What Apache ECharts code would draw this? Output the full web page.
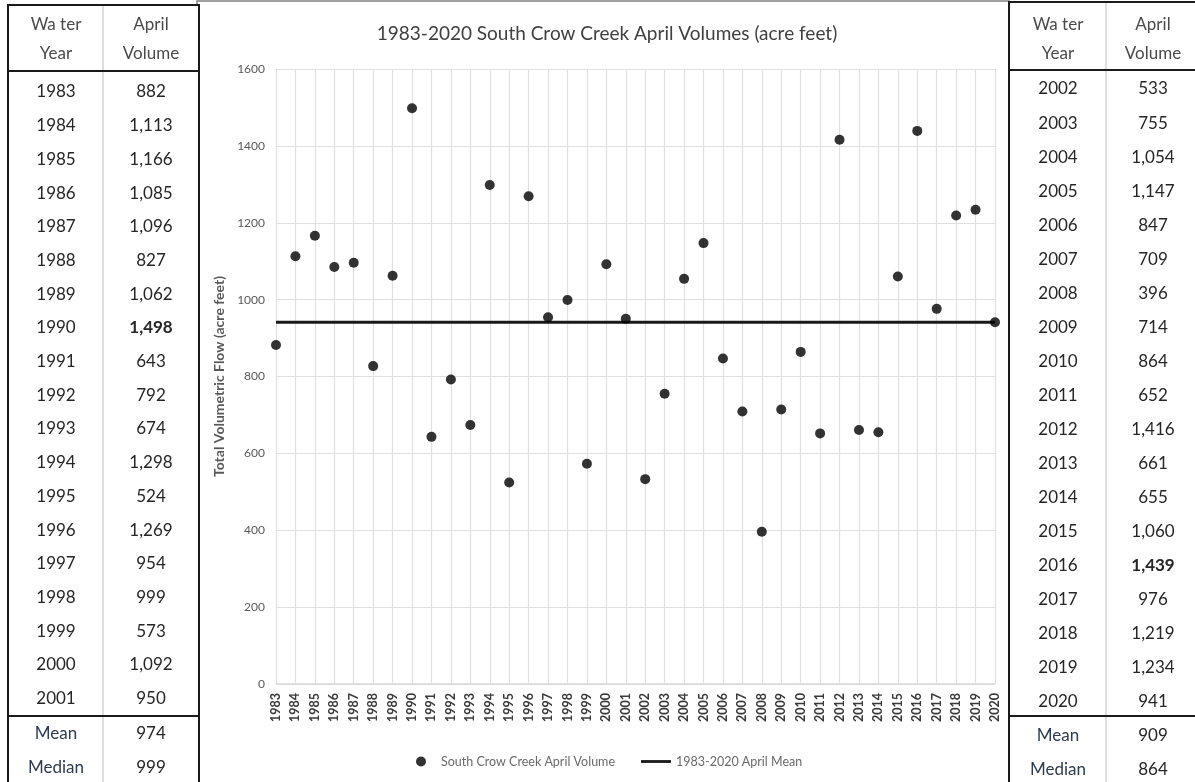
<!DOCTYPE html>
<html>
<head>
<meta charset="utf-8">
<script src="https://cdn.jsdelivr.net/npm/echarts@6/dist/echarts.min.js"></script>
<style>
html,body{margin:0;padding:0;background:#fff;}
#main{width:1195px;height:782px;}
</style>
</head>
<body>
<div id="main"></div>
<script>
// ---- data ----
const years = ['1983','1984','1985','1986','1987','1988','1989','1990','1991','1992','1993','1994','1995','1996','1997','1998','1999','2000','2001',
               '2002','2003','2004','2005','2006','2007','2008','2009','2010','2011','2012','2013','2014','2015','2016','2017','2018','2019','2020'];
const volumes = [882,1113,1166,1085,1096,827,1062,1498,643,792,674,1298,524,1269,954,999,573,1092,950,
                 533,755,1054,1147,847,709,396,714,864,652,1416,661,655,1060,1439,976,1219,1234,941];
const meanVolume = 941;
const leftStats = {mean: '974', median: '999'};
const rightStats = {mean: '909', median: '864'};
const titleText = '1983-2020 South Crow Creek April Volumes (acre feet)';
const yAxisName = 'Total Volumetric Flow (acre feet)';
const seriesNames = ['South Crow Creek April Volume', '1983-2020 April Mean'];

const FONT = 'Lato, "Open Sans", sans-serif';
const fmt = v => v.toLocaleString('en-US');

// ---- tables as graphic elements ----
function buildTable(cfg) {
  const els = [];
  const n = cfg.years.length;
  const maxV = Math.max.apply(null, cfg.vals);
  els.push({type:'rect', shape:{x:cfg.x0, y:cfg.y0, width:cfg.x1-cfg.x0, height:820}, style:{fill:'#fff', stroke:'#1a1a1a', lineWidth:2}, z:10});
  els.push({type:'line', shape:{x1:cfg.xDiv, y1:cfg.y0+1, x2:cfg.xDiv, y2:800}, style:{stroke:'#d4d4d4', lineWidth:1.5}, z:11});
  els.push({type:'line', shape:{x1:cfg.x0, y1:cfg.hSep, x2:cfg.x1, y2:cfg.hSep}, style:{stroke:'#1a1a1a', lineWidth:2}, z:12});
  els.push({type:'line', shape:{x1:cfg.x0, y1:cfg.bSep, x2:cfg.x1, y2:cfg.bSep}, style:{stroke:'#1a1a1a', lineWidth:2}, z:12});
  const txt = (x, y, s, bold, color) => ({type:'text', x:x, y:y, z:13,
    style:{text:s, x:0, y:0, align:'center', verticalAlign:'middle', fill:color||'#262626',
      font:(bold?'bold ':'')+'17px '+FONT}});
  els.push(txt(cfg.cx1, 25, 'Wa ter', false, '#4a4a4a'));
  els.push(txt(cfg.cx1, 54, 'Year', false, '#4a4a4a'));
  els.push(txt(cfg.cx2, 25, 'April', false, '#4a4a4a'));
  els.push(txt(cfg.cx2, 54, 'Volume', false, '#4a4a4a'));
  for (let i = 0; i < n; i++) {
    const y = cfg.rowY0 + i * cfg.rowStep;
    els.push(txt(cfg.cx1, y, cfg.years[i]));
    els.push(txt(cfg.cx2, y, fmt(cfg.vals[i]), cfg.vals[i] === maxV));
  }
  els.push(txt(cfg.cx1, cfg.meanY, 'Mean', false, '#2e3b4e'));
  els.push(txt(cfg.cx2, cfg.meanY, cfg.stats.mean));
  els.push(txt(cfg.cx1, cfg.medY, 'Median', false, '#2e3b4e'));
  els.push(txt(cfg.cx2, cfg.medY, cfg.stats.median));
  return els;
}

const graphics = [];
graphics.push({type:'rect', shape:{x:197, y:1, width:812, height:800}, style:{fill:'none', stroke:'#7f7f7f', lineWidth:1.5}, z:5});
buildTable({years:years.slice(0,19), vals:volumes.slice(0,19), stats:leftStats,
  x0:8, x1:199, y0:5, xDiv:103, hSep:71, bSep:716, cx1:56, cx2:151,
  rowY0:92, rowStep:33.7, meanY:734, medY:768}).forEach(e => graphics.push(e));
buildTable({years:years.slice(19), vals:volumes.slice(19), stats:rightStats,
  x0:1009, x1:1205, y0:2, xDiv:1106, hSep:70, bSep:716, cx1:1058, cx2:1153,
  rowY0:89, rowStep:34.05, meanY:736, medY:770}).forEach(e => graphics.push(e));

const chart = echarts.init(document.getElementById('main'), null, {renderer:'canvas'});
chart.setOption({
  backgroundColor:'#fff',
  animation:false,
  textStyle:{fontFamily:FONT},
  title:{text:titleText, left:602, top:19, textAlign:'center',
    textStyle:{fontFamily:FONT, fontSize:19, fontWeight:'normal', color:'#404040'}},
  grid:{left:276, right:200, top:69, bottom:98},
  legend:{left:411, top:750, itemWidth:30, itemHeight:10, itemGap:26,
    textStyle:{fontFamily:FONT, fontSize:12.5, color:'#6a6a6a'},
    data:[{name:seriesNames[0], icon:'circle'},
          {name:seriesNames[1], icon:'path://M0,0 L32,0 L32,3 L0,3 Z', itemStyle:{color:'#1a1a1a'}}]},
  xAxis:{type:'category', data:years, boundaryGap:false,
    axisLine:{lineStyle:{color:'#d9d9d9', width:1.5}},
    axisTick:{show:false},
    splitLine:{show:true, lineStyle:{color:'#e0e0e0', width:1.2}},
    axisLabel:{interval:0, rotate:90, margin:9, fontSize:12.5, fontWeight:'bold', color:'#3a3a3a', fontFamily:FONT}},
  yAxis:{type:'value', min:0, max:1600, interval:200,
    name:yAxisName, nameLocation:'middle', nameGap:50,
    nameTextStyle:{fontFamily:FONT, fontSize:14, fontWeight:'bold', color:'#595959'},
    axisLine:{show:false}, axisTick:{show:false},
    splitLine:{lineStyle:{color:'#e0e0e0', width:1.2}},
    axisLabel:{fontSize:12, color:'#595959', margin:11, fontFamily:FONT, formatter: v => String(v)}},
  series:[
    {name:seriesNames[1], type:'line', data:years.map(() => meanVolume), symbol:'none',
      lineStyle:{color:'#1a1a1a', width:3}, itemStyle:{color:'#1a1a1a'}, z:2},
    {name:seriesNames[0], type:'scatter', data:volumes, symbol:'circle', symbolSize:10,
      itemStyle:{color:'#000'}, z:3}
  ],
  graphic:graphics
});
</script>
</body>
</html>
